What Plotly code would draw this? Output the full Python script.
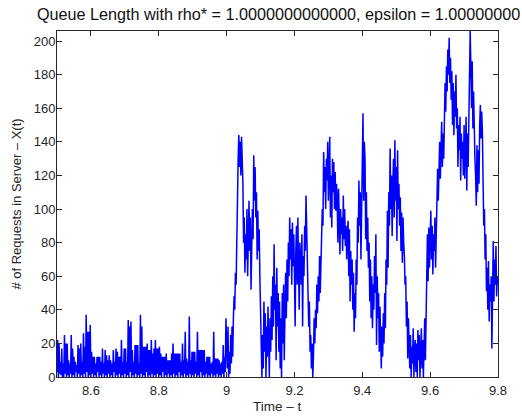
import numpy as np
import plotly.graph_objects as go

# Queue length samples (dt = 0.002)
q_low = [3,22,0,20,2,9,1,17,0,8, 0,25,2,20,0,20,1,10,0,8,
         2,25,0,17,1,12,0,9,3,7, 0,19,2,17,0,20,1,9,0,26,
         2,18,0,37,3,27,0,27,1,31, 0,15,2,12,0,12,1,8,0,12,
         3,12,0,12,1,9,0,17,2,8, 0,16,1,13,0,10,2,13,0,10,
         1,8,0,16,3,9,0,17,1,15, 0,12,2,12,0,22,1,9,0,17,
         2,17,0,9,1,34,0,30,3,33, 0,16,1,9,0,19,2,19,0,19,
         1,8,0,37,2,30,0,18,1,18, 0,18,3,20,0,16,1,16,0,22,
         2,14,0,17,1,22,0,17,2,17, 0,18,1,14,0,12,3,12,0,12,
         1,14,0,10,2,10,0,10,1,14, 0,20,2,14,0,14,1,14,0,14,
         3,14,0,9,1,20,0,10,2,27, 0,11,1,9,0,36,2,10,0,15,
         1,15,0,15,2,9,0,27,1,16, 0,16,3,16,0,16,1,16,0,9,
         2,12,0,12,1,12,0,8,2,9, 0,27,1,11,0,11,2,11,0,10,
         1,8,0,9,2,19,0,12,3,35]
q_a = [20,5,30,0,15,2,25,8,30,12, 35,48,40,62,55,90,118,130,144,125,
       140,120,143,128,115,80,95,62,85,70, 100,60,88,105,75,95,52,90,100,82,
       132,105,125,95,110,70,99,75,88,60, 40,10,0,25,5,45,15,38,0,30,
       12,42,20,0,35,15,48,22,60,30, 79,40,55,10,65,30,50,15,45,5,
       35,0,50,20,55,10,40,62,35,70, 45,80,60,95,70,88,55,92,66,85]
q_b = [60,30,75,90,55,95,65,40,80,70, 55,85,30,72,60,90,75,108,85,60,
       50,30,45,15,25,5,20,0,12,35, 20,40,29,55,38,60,45,72,50,65,
       75,100,90,134,110,125,100,130,117,140, 105,125,143,95,120,89,130,110,128,100,
       122,99,115,105,80,112,90,73,100,85, 95,75,108,82,100,78,90,70,85,93,
       60,88,45,75,55,70,40,62,27,50, 35,70,55,95,80,117,90,110,70,100]
q_c = [120,157,105,140,130,82,110,75,95,65, 80,45,70,35,60,29,55,40,72,50,
       85,19,60,35,50,15,42,25,5,30, 12,38,20,50,29,70,55,99,65,110,
       90,136,100,120,84,115,130,95,141,105, 125,81,135,100,115,90,107,75,98,68,
       95,80,72,55,60,30,45,11,35,20, 5,25,0,18,8,29,0,15,22,3,
       20,0,28,10,25,0,18,29,5,22, 0,15,35,10,39,60,85,57,89,65]
q_d = [80,99,70,90,61,85,75,95,65,80, 110,124,105,120,140,118,135,152,125,145,
       130,160,175,158,185,170,195,180,202,175, 190,165,182,150,175,144,170,155,180,148,
       160,125,150,135,155,117,145,130,140,120, 150,118,135,155,111,145,125,150,175,206,
       185,160,188,148,170,142,130,120,102,138, 110,135,115,150,162,142,158,145,118,90,
       100,70,85,51,65,40,69,33,55,45, 60,17,50,81,45,70,55,78,48,60, 55]

t_start, t_end = 8.5, 9.8
queue = q_low + q_a + q_b + q_c + q_d
time = np.linspace(t_start, t_end, len(queue))

x_ticks = [8.6, 8.8, 9.0, 9.2, 9.4, 9.6, 9.8]
x_tick_text = ["8.6", "8.8", "9", "9.2", "9.4", "9.6", "9.8"]
y_ticks = [0, 20, 40, 60, 80, 100, 120, 140, 160, 180, 200]

FONT = "Liberation Sans, Arial, Helvetica, sans-serif"

fig = go.Figure()
fig.add_trace(go.Scatter(x=time, y=queue, mode="lines",
                         line=dict(color="#0000ff", width=1.5),
                         hoverinfo="skip", showlegend=False))

axis_common = dict(showline=True, linecolor="#262626", linewidth=1,
                   mirror="ticks", ticks="inside", ticklen=5,
                   tickcolor="#262626", tickwidth=1, showgrid=False,
                   zeroline=False, tickfont=dict(family=FONT, size=13, color="#262626"))

fig.update_layout(
    width=522, height=417,
    margin=dict(l=57, r=24, t=31, b=40),
    paper_bgcolor="white", plot_bgcolor="white",
    font=dict(family=FONT, color="#262626"),
    title=dict(text="Queue Length with rho* = 1.0000000000000, epsilon = 1.00000000",
               x=37/522, xanchor="left", xref="container",
               y=1-14/417, yanchor="middle", yref="container",
               font=dict(family=FONT, size=16.2, color="#111111")),
    xaxis=dict(range=[t_start, t_end], tickvals=x_ticks, ticktext=x_tick_text,
               ticklabelstandoff=1, **axis_common),
    yaxis=dict(range=[0, 206], tickvals=y_ticks, ticklabelstandoff=-2,
               title=dict(text="# of Requests in Server – X(t)", standoff=9,
                          font=dict(family=FONT, size=13, color="#262626")),
               automargin=False, **axis_common),
)

fig.add_annotation(text="Time – t", xref="paper", yref="paper",
                   x=0.5, y=-(406-377)/346, xanchor="center", yanchor="middle",
                   showarrow=False, font=dict(family=FONT, size=13.5, color="#262626"))

fig.write_html("out.html")
